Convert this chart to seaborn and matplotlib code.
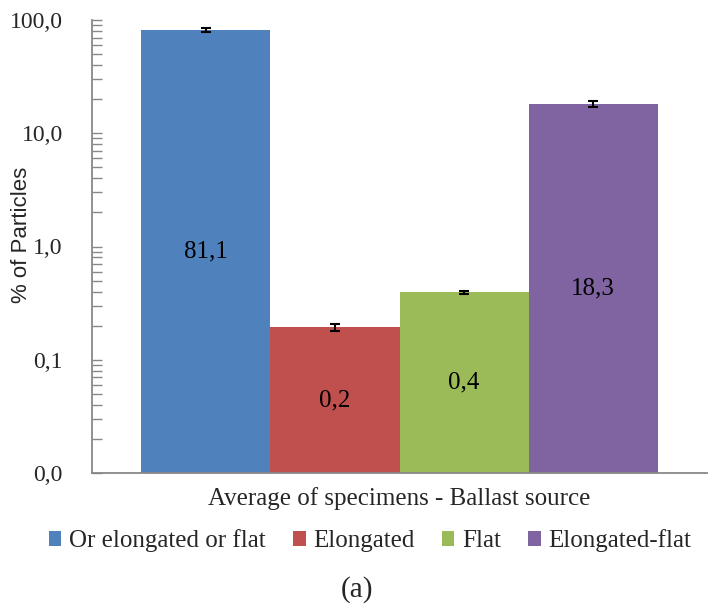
import matplotlib
matplotlib.use("Agg")
import matplotlib.pyplot as plt
import seaborn as sns
import pandas as pd
import numpy as np
from matplotlib.patches import Patch
from matplotlib.ticker import FixedLocator, FixedFormatter, LogLocator, NullFormatter

# ---- data ----
source = ["Average of specimens - Ballast source"]
types = ["Or elongated or flat", "Elongated", "Flat", "Elongated-flat"]
values = [81.1, 0.193, 0.395, 18.3]
errors = [3.5, 0.012, 0.013, 1.1]
colors = ["#4F81BD", "#C0504D", "#9BBB59", "#8064A2"]
ytick_values = [0.01, 0.1, 1, 10, 100]
ytick_labels = ["0,0", "0,1", "1,0", "10,0", "100,0"]

df = pd.DataFrame({"source": source * len(types), "type": types, "value": values, "err": errors})

sns.set_theme(style="white")
plt.rcParams["font.family"] = ["Liberation Serif", "DejaVu Serif"]

fig = plt.figure(figsize=(7.12, 6.09), dpi=100)
ax = fig.add_axes([92/712, 1 - 473/609, (707-92)/712, (473-20)/609])

sns.barplot(data=df, x="source", y="value", hue="type", hue_order=types,
            palette=colors, width=0.84, errorbar=None, saturation=1,
            edgecolor="none", linewidth=0, ax=ax, legend=False)

ax.set_yscale("log")
ax.set_ylim(0.01, 100)
ax.set_xlim(-0.5, 0.5)

ymin = 0.01
bars = [p for p in ax.patches if p.get_height() > 0]
for p, t in zip(bars, types):
    row = df[df["type"] == t].iloc[0]
    xc = p.get_x() + p.get_width() / 2
    ax.errorbar(xc, row["value"], yerr=row["err"], fmt="none", ecolor="black",
                elinewidth=1.5, capsize=3.5, capthick=1.5, zorder=5)
    ymid = np.sqrt(ymin * row["value"])
    ax.text(xc, ymid, f"{row['value']:.1f}".replace(".", ","), ha="center", va="center",
            fontsize=18, color="black")

ax.yaxis.set_major_locator(FixedLocator(ytick_values))
ax.yaxis.set_major_formatter(FixedFormatter(ytick_labels))
ax.yaxis.set_minor_locator(LogLocator(base=10, subs=np.arange(2, 10), numticks=20))
ax.yaxis.set_minor_formatter(NullFormatter())
ax.tick_params(axis="y", which="major", direction="in", length=7, width=1, color="#888888",
               labelsize=17, pad=21, left=True)
ax.tick_params(axis="y", which="minor", direction="in", length=7, width=1, color="#888888", left=True)
ax.tick_params(axis="x", length=0, labelsize=18, pad=10)

ax.set_xlabel("")
ax.set_ylabel("% of Particles", family=["Liberation Sans", "DejaVu Sans"], fontsize=16)
ax.yaxis.set_label_coords(-0.097, 0.525)

for s in ["top", "right"]:
    ax.spines[s].set_visible(False)
for s in ["left", "bottom"]:
    ax.spines[s].set_color("#888888")
    ax.spines[s].set_linewidth(1.3)

handles = [Patch(facecolor=c, edgecolor="none") for c in colors]
fig.legend(handles, types, loc="center", bbox_to_anchor=(370/712, 1 - 541/609), ncol=4,
           frameon=False, fontsize=18, handlelength=0.5, handleheight=0.5,
           handletextpad=0.3, columnspacing=1.1)

fig.text(357/712, 1 - 590/609, "(a)", ha="center", va="center", fontsize=21)

fig.savefig("out.png", dpi=100)
